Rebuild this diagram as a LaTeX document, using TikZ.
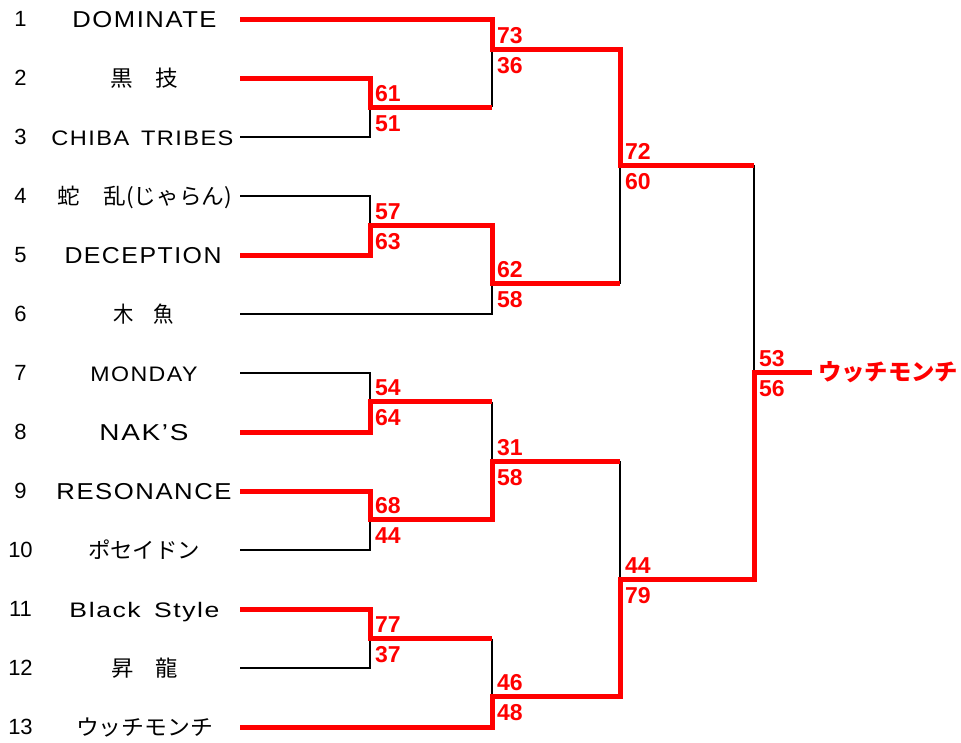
\documentclass[tikz,border=0pt]{standalone}
\usepackage{fontspec}
\usepackage{graphicx}
\setmainfont{Liberation Sans}
\newfontfamily\jpf{Noto Sans CJK JP}
\newfontfamily\lsp[LetterSpace=6]{Liberation Sans}
\newcommand\teamtxt[3]{\resizebox{#1pt}{\height}{\fontsize{#2}{#2}\selectfont #3}}
\tikzset{
  win/.style={draw=red, line width=5pt},
  lose/.style={draw=black, line width=1.8pt},
  score/.style={text=red, font=\fontsize{23}{23}\selectfont\bfseries, inner sep=0pt, anchor=west},
  nm/.style={anchor=base, inner sep=0pt},
  num/.style={anchor=base, inner sep=0pt, font=\fontsize{22}{22}\selectfont},
}
\begin{document}
\begin{tikzpicture}[x=1pt,y=-1pt]
\useasboundingbox (0,0) rectangle (961,742);
% team line starts
\foreach \i in {1,...,13}{
  \coordinate (t\i) at (240,{19+59*(\i-1)});
  \node[num] (k\i) at (20.5,{19+59*(\i-1)+7.8}) {\i};
}
% team names
\node[nm] (n1)  at (144.5,{19+8})  {\teamtxt{144}{23}{\lsp DOMINATE}};
\node[nm] (n2)  at (144,{78+8})    {\teamtxt{68}{22}{\jpf 黒　技}};
\node[nm] (n3)  at (142.5,{137+8}) {\teamtxt{182}{21}{\lsp CHIBA\hspace{0.5em}TRIBES}};
\node[nm] (n4)  at (145,{196+8})   {\teamtxt{174}{22}{\jpf 蛇　乱(じゃらん)}};
\node[nm] (n5)  at (143,{255+8})   {\teamtxt{157}{23}{\lsp DECEPTION}};
\node[nm] (n6)  at (143.5,{314+8}) {\teamtxt{61}{22}{\jpf 木　魚}};
\node[nm] (n7)  at (144,{373+8})   {\teamtxt{107}{21}{\lsp MONDAY}};
\node[nm] (n8)  at (144,{432+8})   {\teamtxt{89}{23}{\lsp NAK’S}};
\node[nm] (n9)  at (144,{491+8})   {\teamtxt{175}{23}{\lsp RESONANCE}};
\node[nm] (n10) at (144,{550+8})   {\teamtxt{112}{22}{\jpf ポセイドン}};
\node[nm] (n11) at (144.5,{609+8}) {\teamtxt{150}{21}{\lsp Black\hspace{0.5em}Style}};
\node[nm] (n12) at (144.5,{668+8}) {\teamtxt{67}{22}{\jpf 昇　龍}};
\node[nm] (n13) at (144.5,{727+8}) {\teamtxt{137}{22}{\jpf ウッチモンチ}};
% match junctions
\coordinate (mA) at (370,107);
\coordinate (mB) at (492,49);
\coordinate (mC) at (370,225.5);
\coordinate (mD) at (492,283.5);
\coordinate (mE) at (620,165);
\coordinate (mF) at (370,401.5);
\coordinate (mG) at (370,519.5);
\coordinate (mH) at (492,461);
\coordinate (mI) at (370,638.5);
\coordinate (mJ) at (492,696);
\coordinate (mK) at (620,579);
\coordinate (mL) at (754,372);
\coordinate (cw) at (812,372);
% losing lines
\draw[lose] (t3) -| (mA);
\draw[lose] (t4) -| (mC);
\draw[lose] (t6) -| (mD);
\draw[lose] (t7) -| (mF);
\draw[lose] (t10) -| (mG);
\draw[lose] (t12) -| (mI);
\draw[lose] (mA -| mB) -- (mB);
\draw[lose] (mD -| mE) -- (mE);
\draw[lose] (mF -| mH) -- (mH);
\draw[lose] (mI -| mJ) -- (mJ);
\draw[lose] (mH -| mK) -- (mK);
\draw[lose] (mE -| mL) -- (mL);
% winning lines
\draw[win] (t2) -| (mA) -- (mA -| mB);
\draw[win] (t1) -| (mB) -| (mE) -- (mE -| mL);
\draw[win] (t5) -| (mC) -| (mD) -- (mD -| mE);
\draw[win] (t8) -| (mF) -- (mF -| mH);
\draw[win] (t9) -| (mG) -| (mH) -- (mH -| mK);
\draw[win] (t11) -| (mI) -- (mI -| mJ);
\draw[win] (t13) -| (mJ) -| (mK) -| (mL) -- (cw);
% scores
\node[score] (sAu) at ([shift={(5,-13.5)}]mA) {61};
\node[score] (sAl) at ([shift={(5,16.5)}]mA) {51};
\node[score] (sBu) at ([shift={(5,-13.5)}]mB) {73};
\node[score] (sBl) at ([shift={(5,16.5)}]mB) {36};
\node[score] (sCu) at ([shift={(5,-13.5)}]mC) {57};
\node[score] (sCl) at ([shift={(5,16.5)}]mC) {63};
\node[score] (sDu) at ([shift={(5,-13.5)}]mD) {62};
\node[score] (sDl) at ([shift={(5,16.5)}]mD) {58};
\node[score] (sEu) at ([shift={(5,-13.5)}]mE) {72};
\node[score] (sEl) at ([shift={(5,16.5)}]mE) {60};
\node[score] (sFu) at ([shift={(5,-13.5)}]mF) {54};
\node[score] (sFl) at ([shift={(5,16.5)}]mF) {64};
\node[score] (sGu) at ([shift={(5,-13.5)}]mG) {68};
\node[score] (sGl) at ([shift={(5,16.5)}]mG) {44};
\node[score] (sHu) at ([shift={(5,-13.5)}]mH) {31};
\node[score] (sHl) at ([shift={(5,16.5)}]mH) {58};
\node[score] (sIu) at ([shift={(5,-13.5)}]mI) {77};
\node[score] (sIl) at ([shift={(5,16.5)}]mI) {37};
\node[score] (sJu) at ([shift={(5,-13.5)}]mJ) {46};
\node[score] (sJl) at ([shift={(5,16.5)}]mJ) {48};
\node[score] (sKu) at ([shift={(5,-13.5)}]mK) {44};
\node[score] (sKl) at ([shift={(5,16.5)}]mK) {79};
\node[score] (sLu) at ([shift={(5,-13.5)}]mL) {53};
\node[score] (sLl) at ([shift={(5,16.5)}]mL) {56};
% champion
\node[anchor=base west, inner sep=0pt, text=red] (champ) at (818,{372+8.5})
  {\resizebox{140pt}{\height}{\fontsize{23}{23}\selectfont\jpf\bfseries ウッチモンチ}};
\end{tikzpicture}
\end{document}
